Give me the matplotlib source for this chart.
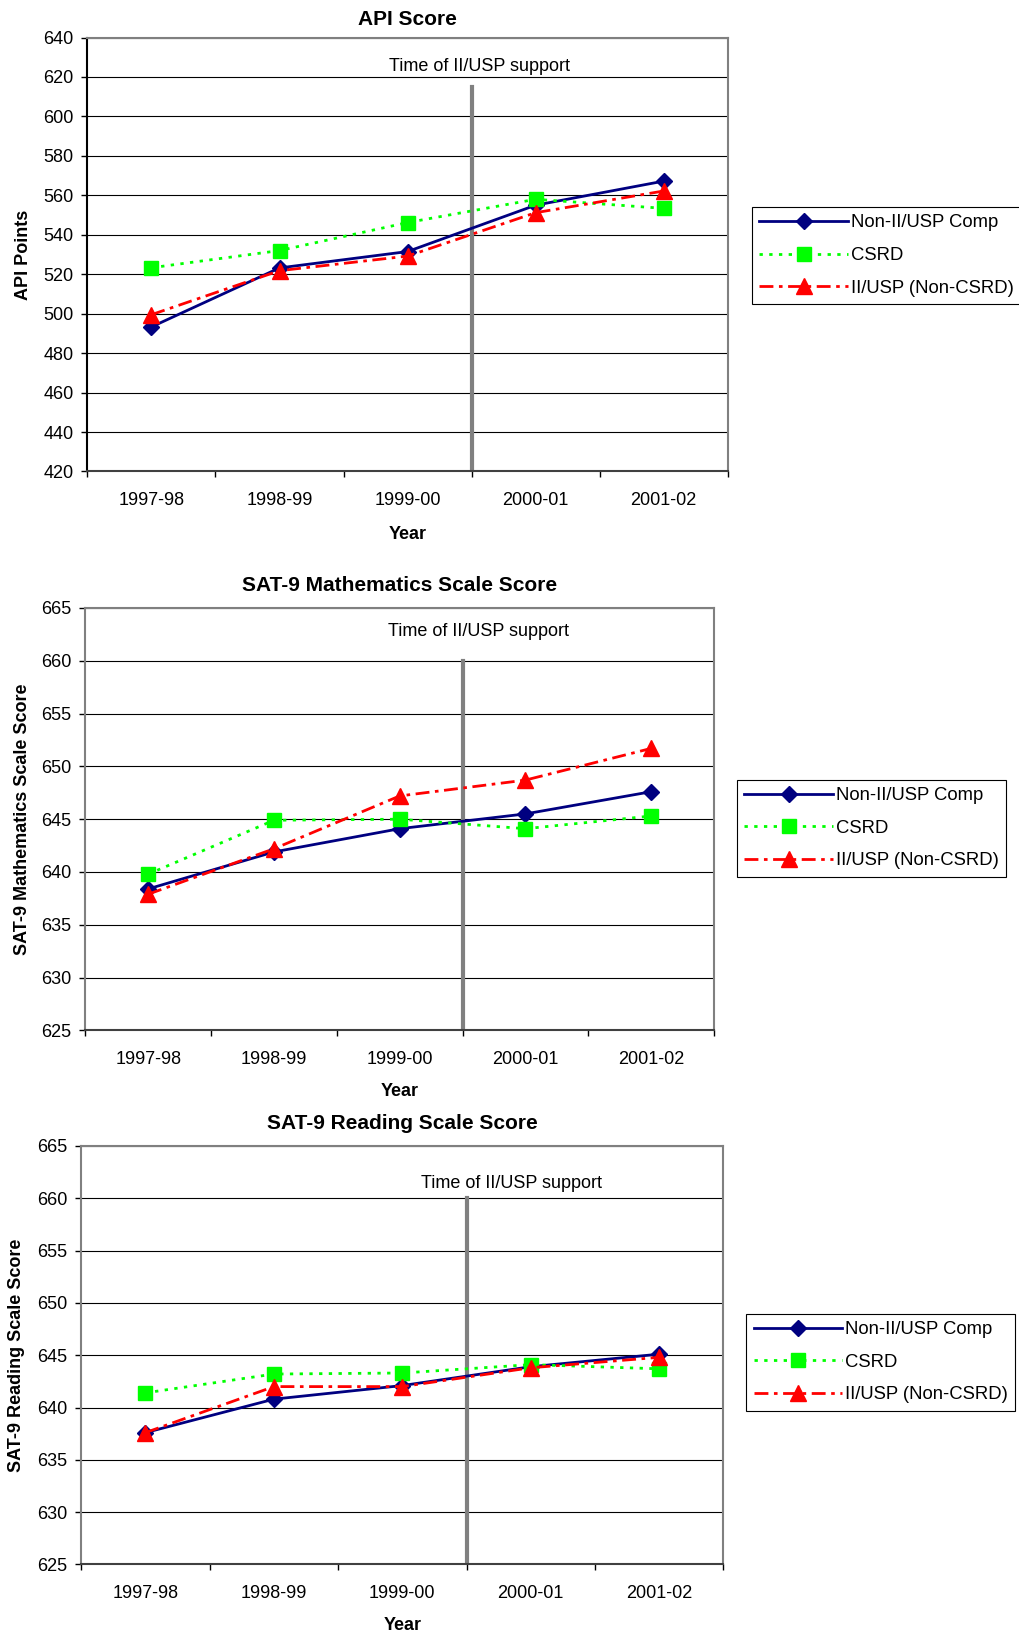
import numpy as np
import matplotlib
matplotlib.use('Agg')
import matplotlib.pyplot as plt

plt.rcParams['font.family'] = ['Liberation Sans', 'DejaVu Sans']

years = ['1997-98', '1998-99', '1999-00', '2000-01', '2001-02']
series_names = ['Non-II/USP Comp', 'CSRD', 'II/USP (Non-CSRD)']

# API score
api_comp = [493.3, 523.2, 531.5, 555.0, 567.2]
api_csrd = [523.3, 532.0, 546.2, 558.0, 553.4]
api_iiusp = [499.5, 521.8, 529.2, 551.2, 562.2]

# SAT-9 math
math_comp = [638.4, 641.9, 644.1, 645.5, 647.6]
math_csrd = [639.8, 644.9, 645.0, 644.1, 645.3]
math_iiusp = [637.9, 642.2, 647.2, 648.7, 651.7]

# SAT-9 reading
read_comp = [637.6, 640.8, 642.1, 643.9, 645.1]
read_csrd = [641.4, 643.2, 643.3, 644.1, 643.7]
read_iiusp = [637.6, 642.0, 642.0, 643.8, 644.8]

fig = plt.figure(figsize=(10.19, 16.32), dpi=100)

charts = [
    dict(title='API Score', ylabel='API Points', data=(api_comp, api_csrd, api_iiusp),
         ylim=(420, 640), step=20, pos=[0.0858, 0.7111, 0.6283, 0.2659],
         vtop=615, txt=(2.56, 625.2), leg=(0.738, 0.8732), tpad=9, left='black'),
    dict(title='SAT-9 Mathematics Scale Score', ylabel='SAT-9 Mathematics Scale Score',
         data=(math_comp, math_csrd, math_iiusp),
         ylim=(625, 665), step=5, pos=[0.0838, 0.3686, 0.6169, 0.2589],
         vtop=660, txt=(2.63, 662.8), leg=(0.7233, 0.5223), tpad=12, left='#808080'),
    dict(title='SAT-9 Reading Scale Score', ylabel='SAT-9 Reading Scale Score',
         data=(read_comp, read_csrd, read_iiusp),
         ylim=(625, 665), step=5, pos=[0.0797, 0.0414, 0.6302, 0.2564],
         vtop=660, txt=(2.85, 661.4), leg=(0.7324, 0.1951), tpad=12, left='#808080'),
]

styles = [
    dict(color='#000080', linestyle='-', marker='D', markersize=8),
    dict(color='#00FF00', linestyle=(0, (1.2, 2.3)), marker='s', markersize=10.5),
    dict(color='#FF0000', linestyle=(0, (5, 2, 1.3, 2)), marker='^', markersize=11),
]

x = np.arange(len(years))

for c in charts:
    ax = fig.add_axes(c['pos'])
    ymin, ymax = c['ylim']
    ax.set_xlim(-0.5, len(years) - 0.5)
    ax.set_ylim(ymin, ymax)
    ax.set_yticks(np.arange(ymin, ymax + 0.1, c['step']))
    ax.yaxis.grid(True, color='black', linewidth=0.8)
    ax.set_axisbelow(True)

    ax.set_xticks(x)
    ax.set_xticklabels(years)
    ax.set_xticks(np.arange(-0.5, len(years)), minor=True)
    ax.tick_params(axis='x', which='major', length=0, pad=15, labelsize=13)
    ax.tick_params(axis='x', which='minor', length=4, width=1, direction='out')
    ax.tick_params(axis='y', length=4, width=1, direction='out', pad=6, labelsize=13)

    for s in ['top', 'right']:
        ax.spines[s].set_color('#808080')
        ax.spines[s].set_linewidth(1.5)
    ax.spines['left'].set_color(c['left'])
    ax.spines['left'].set_linewidth(1.5)
    ax.spines['bottom'].set_color('#404040')
    ax.spines['bottom'].set_linewidth(1.5)

    ax.plot([2.5, 2.5], [ymin, c['vtop']], color='#808080', linewidth=3, zorder=2)
    ax.text(c['txt'][0], c['txt'][1], 'Time of II/USP support', fontsize=13,
            ha='center', va='center')

    for vals, st, name in zip(c['data'], styles, series_names):
        ax.plot(x, vals, linewidth=2, markeredgecolor=st['color'], label=name,
                zorder=3, **st)

    ax.set_title(c['title'], fontsize=15, fontweight='bold', pad=c['tpad'])
    ax.set_ylabel(c['ylabel'], fontsize=13, fontweight='bold', va='center')
    ax.yaxis.set_label_coords(-0.1, 0.5)
    ax.set_xlabel('Year', fontsize=13, fontweight='bold', va='center')
    ax.xaxis.set_label_coords(0.5, -0.145)

    leg = ax.legend(loc='upper left', bbox_to_anchor=c['leg'], bbox_transform=fig.transFigure,
                    fontsize=13.3, handlelength=4.8, handletextpad=0.15, labelspacing=0.85,
                    borderpad=0.4, borderaxespad=0, fancybox=False, framealpha=1,
                    numpoints=1)
    leg.get_frame().set_edgecolor('black')
    leg.get_frame().set_linewidth(0.8)

fig.savefig('out.png', dpi=100)
